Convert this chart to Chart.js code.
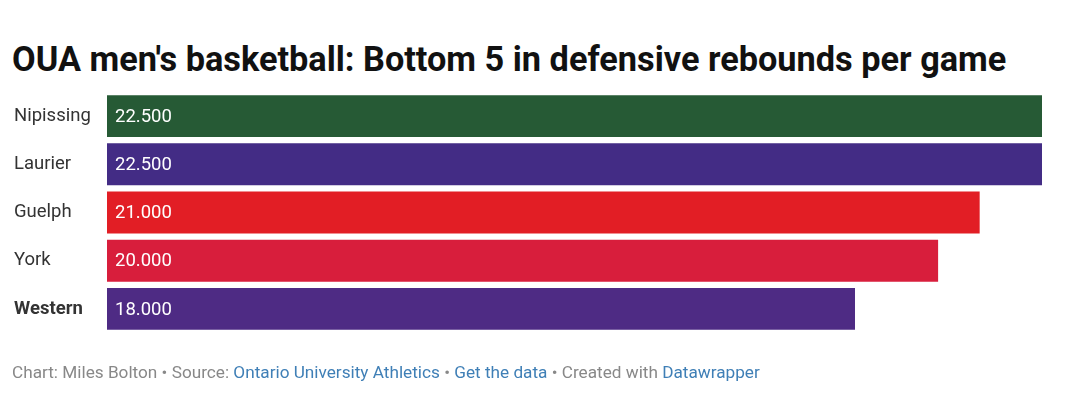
<!DOCTYPE html>
<html>
<head>
<meta charset="utf-8">
<script src="https://cdn.jsdelivr.net/npm/chart.js@4"></script>
<style>
html,body{margin:0;padding:0;background:#fff;width:1078px;height:397px;overflow:hidden;font-family:Roboto,sans-serif;}
#title{position:absolute;left:12px;top:38px;font-size:34.3px;line-height:42px;font-weight:700;color:#111;white-space:nowrap;}
#footer{position:absolute;left:12px;top:361px;font-size:17.2px;line-height:22px;color:#888;white-space:nowrap;}
#footer a{color:#3f7fb6;text-decoration:none;}
#wrap{position:absolute;left:0;top:0;width:1078px;height:397px;}
</style>
</head>
<body>
<div id="title">OUA men's basketball: Bottom 5 in defensive rebounds per game</div>
<div id="wrap"><canvas id="c"></canvas></div>
<div id="footer">Chart: Miles Bolton • Source: <a>Ontario University Athletics</a> • <a>Get the data</a> • Created with <a>Datawrapper</a></div>
<script>
const teams = ["Nipissing", "Laurier", "Guelph", "York", "Western"];
const rebounds = [22.5, 22.5, 21.0, 20.0, 18.0];
const barColors = ["#265a35", "#432c85", "#e21e25", "#d81e3c", "#4e2b84"];
const highlighted = ["Western"];

const valueLabels = {
  id: 'valueLabels',
  afterDatasetsDraw(chart) {
    const ctx = chart.ctx;
    const meta = chart.getDatasetMeta(0);
    ctx.save();
    ctx.font = '18.5px Roboto';
    ctx.fillStyle = '#ffffff';
    ctx.textAlign = 'left';
    ctx.textBaseline = 'middle';
    meta.data.forEach((el, i) => {
      ctx.fillText(rebounds[i].toFixed(3), el.base + 8, el.y + 1);
    });
    ctx.restore();
  }
};

new Chart(document.getElementById('c'), {
  type: 'bar',
  data: {
    labels: teams,
    datasets: [{
      data: rebounds,
      backgroundColor: barColors,
      borderWidth: 0,
      barPercentage: 0.87,
      categoryPercentage: 1.0
    }]
  },
  options: {
    indexAxis: 'y',
    responsive: true,
    maintainAspectRatio: false,
    animation: false,
    layout: { padding: { left: 14, right: 36, top: 92, bottom: 64 } },
    plugins: { legend: { display: false }, tooltip: { enabled: false }, title: { display: false } },
    scales: {
      x: { display: false, min: 0, max: 22.5 },
      y: {
        grid: { display: false },
        border: { display: false },
        afterFit(scale) { scale.width = 93; },
        ticks: {
          crossAlign: 'far',
          color: '#333',
          padding: 0,
          font: (ctx) => ({ family: 'Roboto', size: 18.5, weight: highlighted.includes(teams[ctx.index]) ? 'bold' : 'normal' })
        }
      }
    }
  },
  plugins: [valueLabels]
});
</script>
</body>
</html>
